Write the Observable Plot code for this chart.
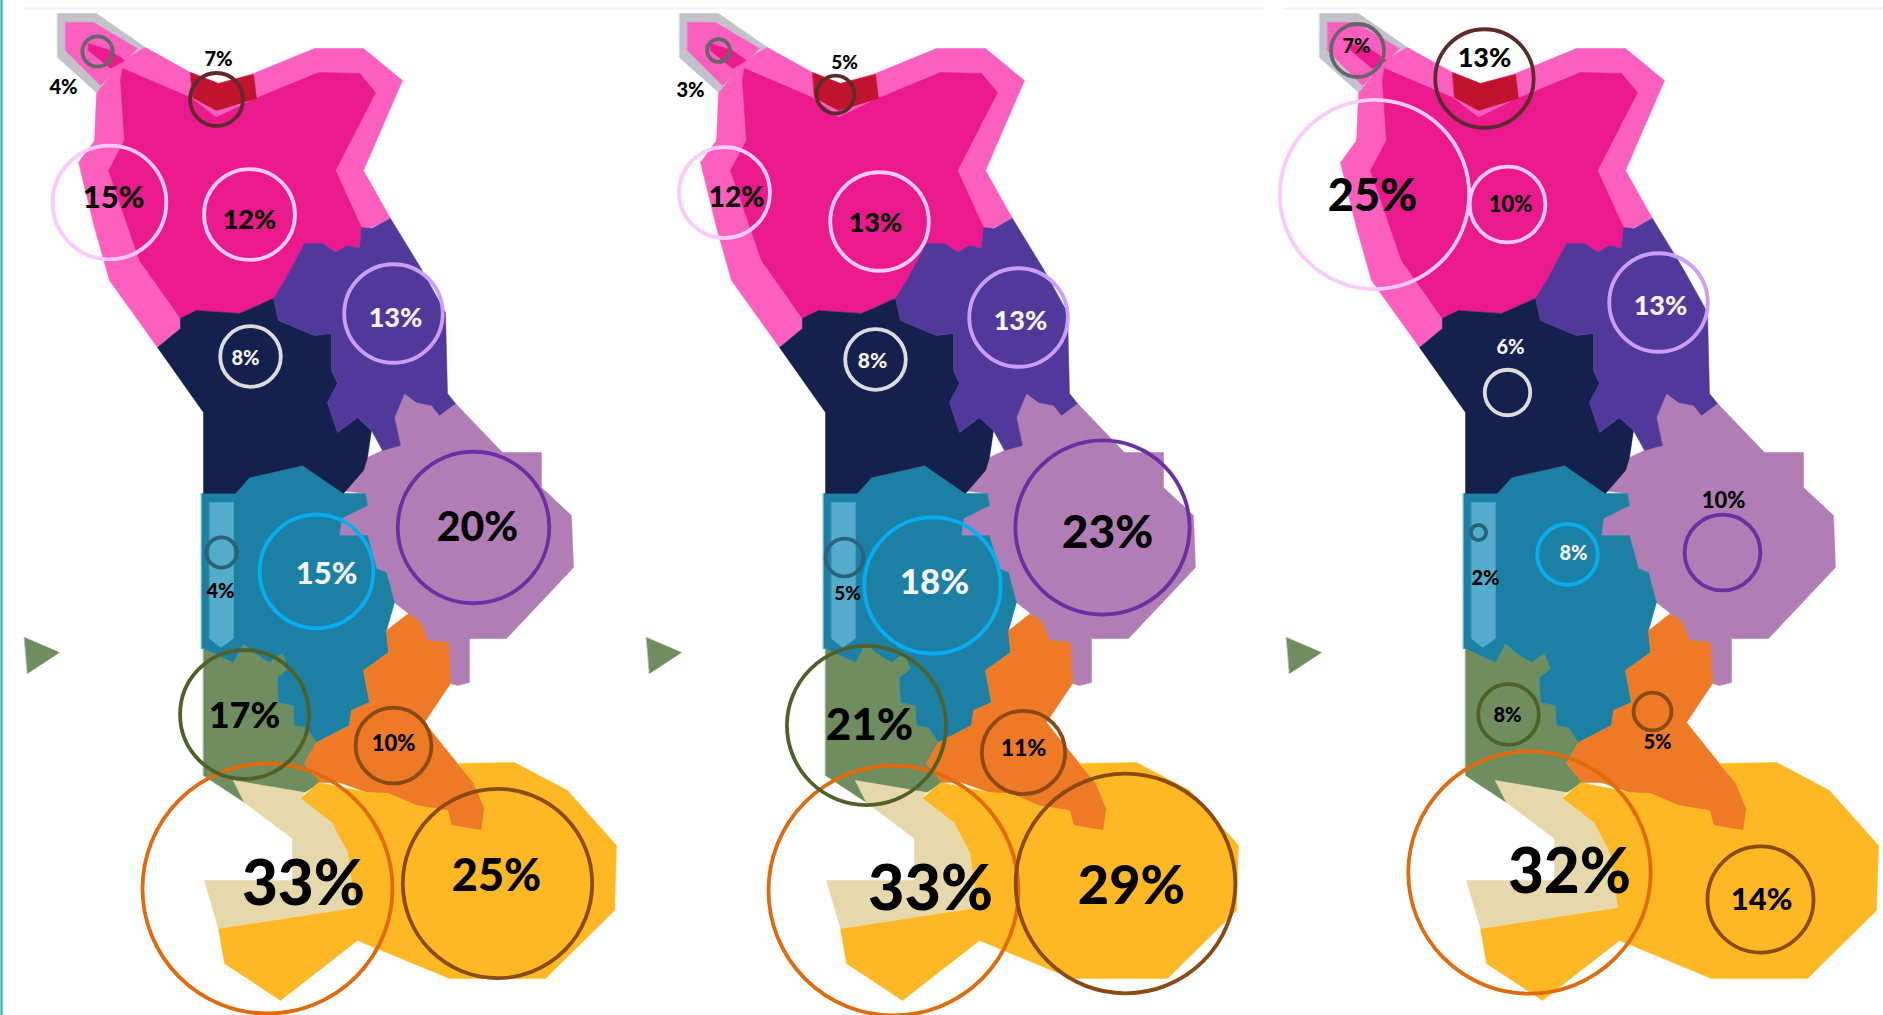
<!DOCTYPE html>
<html><head><meta charset="utf-8">
<style>html,body{margin:0;padding:0;background:#fff;overflow:hidden}svg{display:block}</style>
<script src="https://cdn.jsdelivr.net/npm/d3@7"></script>
<script src="https://cdn.jsdelivr.net/npm/@observablehq/plot@0.6"></script>
</head><body><div id="chart"></div>
<script>
// Horizontal placement of the three map panels
const panelOffsets = [0, 622, 1262];

// Map regions: outline points in the left panel's frame
const frameShape = [[57,13],[96,13],[145,47],[102,93],[96,92],[57,57]];
const framePink = [[65,22],[93,22],[137,48],[100,85],[65,50]];
const lightPinkShape = [[96,93],[94,140],[78,162],[94,227],[109,280],[157,347],[180,328],[196,310],[286,300],[359,233],[390,218],[363,170],[402,80],[363,48],[314,48],[253,73],[218,83],[190,72],[145,47],[122,60]];
const darkPinkShape = [[122,68],[190,97],[216,117],[255,98],[318,72],[359,73],[375,92],[335,170],[361,227],[359,248],[347,245],[335,252],[322,243],[304,243],[286,277],[273,298],[239,313],[196,310],[180,318],[139,260],[108,170],[124,140],[120,80]];
const darkPinkTip = [[88,43],[110,50],[124,60],[110,68],[88,50]];
const redShape = [[190,72],[218,83],[253,74],[256,98],[216,110],[192,97]];
const navyShape = [[180,318],[196,310],[239,313],[273,298],[278,320],[314,335],[331,333],[331,370],[337,383],[327,402],[337,432],[357,417],[371,430],[367,457],[363,470],[343,493],[302,465],[249,477],[235,493],[203,493],[203,412],[157,347],[180,328]];
const purpleShape = [[390,218],[420,267],[445,312],[447,393],[455,403],[439,415],[431,405],[416,402],[404,393],[394,417],[400,445],[382,450],[371,430],[357,417],[337,432],[327,402],[337,383],[331,370],[331,333],[314,335],[278,320],[273,298],[286,277],[304,243],[322,243],[335,252],[347,245],[359,248],[361,227],[371,228]];
const mauveShape = [[404,393],[416,402],[431,405],[439,415],[455,403],[502,452],[541,452],[541,487],[571,515],[573,567],[506,638],[469,638],[469,682],[457,685],[450,683],[408,613],[394,602],[386,572],[376,568],[367,535],[339,535],[341,518],[367,505],[365,493],[340,490],[367,457],[382,450],[400,445],[394,417]];
const blueShape = [[201,493],[235,493],[249,477],[302,465],[343,493],[365,493],[367,505],[341,518],[339,535],[367,535],[376,568],[386,572],[394,602],[386,630],[388,652],[363,670],[369,702],[351,710],[349,725],[316,742],[306,727],[294,725],[293,705],[278,702],[277,677],[288,668],[282,653],[296,642],[269,662],[253,652],[243,643],[233,662],[218,655],[203,648],[201,648]];
const greenShape = [[203,648],[218,655],[233,662],[243,643],[253,652],[269,662],[296,642],[282,653],[288,668],[277,677],[278,702],[293,705],[294,725],[306,727],[316,742],[304,763],[320,782],[304,792],[233,780],[244,802],[203,775]];
const stripShape = [[209,502],[233,502],[233,638],[220,647],[209,638]];
const orangeShape = [[386,630],[408,613],[420,622],[427,640],[448,642],[450,683],[424,722],[457,763],[473,782],[484,808],[481,830],[451,825],[447,810],[416,805],[388,793],[367,792],[339,782],[320,782],[304,763],[316,742],[349,725],[351,710],[369,702],[363,670],[388,652]];
const yellowShape = [[457,763],[514,762],[567,790],[616,845],[614,910],[545,978],[449,978],[357,940],[280,1000],[224,963],[218,928],[355,907],[347,852],[331,822],[300,798],[318,782],[367,792],[388,793],[416,805],[447,810],[451,825],[481,830],[484,808],[473,782]];
const beigeShape = [[233,780],[304,792],[300,798],[331,822],[347,852],[355,907],[218,928],[204,880],[292,880],[292,838],[244,802]];
const islandShape = [[24,637],[59,652],[27,673]];

const mapLayers = [
  [frameShape, "#c2c2ca"], [lightPinkShape, "#fd5fbf"], [framePink, "#fd5fbf"],
  [darkPinkShape, "#ea198c"], [darkPinkTip, "#ea198c"], [redShape, "#c1122e"],
  [mauveShape, "#b07db4"], [greenShape, "#6f8e60"], [blueShape, "#1c80a5"],
  [stripShape, "#53accb"], [navyShape, "#14214f"], [purpleShape, "#50399b"],
  [orangeShape, "#ee7a25"], [yellowShape, "#fdb824"], [beigeShape, "#e7d8ab"],
  [islandShape, "#6f8e60"]
];

// Bubble ring and label colours by region
const ringColors = {top:"#66666a", red:"#5e2b2b", west:"#fbcbfd", centre:"#fbcbfd", purple:"#cc9dfb", navy:"#dcdcdc",
  violet:"#6a2fa3", blue:"#05aef0", strip:"#2a6378", green:"#4f6128", orange:"#8a4a14", coast:"#e16a0c", east:"#8a4a14"};
const whiteLabels = ["purple", "navy", "blue"];

// Rows: region, share (%), bubble x, bubble y, label x, label y, label size
const panelOne = [
  ["top",4,97,51,63,87,20],["red",7,216,99,218,59,20],["west",15,109,202,113,198,31],["centre",12,249,214,249,220,27],
  ["purple",13,393,313,395,318,27],["navy",8,250,356,245,358,20],["violet",20,473,527,477,527,41],["blue",15,316,571,326,574,31],
  ["strip",4,221,552,220,591,20],["green",17,244,714,244,716,36],["orange",10,393,745,393,743,22],["coast",33,267,888,303,885,62],["east",25,497,883,496,876,45]
];
const panelTwo = [
  ["top",3,718,50,690,90,20],["red",5,835,94,844,62,19],["west",12,724,192,736,198,28],["centre",13,879,221,875,223,27],
  ["purple",13,1018,317,1020,321,27],["navy",8,875,359,872,361,21],["violet",23,1102,527,1107,533,46],["blue",18,932,585,934,582,35],
  ["strip",5,844,557,847,593,19],["green",21,866,725,869,725,44],["orange",11,1023,752,1023,748,23],["coast",33,893,890,930,889,63],["east",29,1125,883,1131,886,54]
];
const panelThree = [
  ["top",7,1357,50,1356,46,20],["red",13,1484,78,1484,58,27],["west",25,1374,194,1372,196,45],["centre",10,1507,204,1510,204,22],
  ["purple",13,1658,302,1660,306,27],["navy",6,1507,392,1510,347,20],["violet",10,1722,552,1723,500,22],["blue",8,1567,554,1573,553,20],
  ["strip",2,1478,532,1485,578,20],["green",8,1508,714,1507,715,20],["orange",5,1652,711,1657,742,20],["coast",32,1529,872,1569,873,62],["east",14,1760,899,1761,900,31]
];

const regions = panelOffsets.flatMap(dx => mapLayers.map(([shape, fill]) => ({
  type: "Feature", properties: {fill},
  geometry: {type: "Polygon", coordinates: [[...shape, shape[0]].map(([x, y]) => [x + dx, y])]}
})));
const bubbles = [...panelOne, ...panelTwo, ...panelThree].map(([region, value, cx, cy, lx, ly, size]) => ({region, value, cx, cy, lx, ly, size}));

const chart = Plot.plot({
  width: 1883, height: 1015, margin: 0,
  style: {background: "#fff"},
  x: {domain: [0, 1883], range: [0, 1883], axis: null},
  y: {domain: [0, 1015], range: [0, 1015], axis: null},
  r: {type: "linear", domain: [0, 33], range: [0, 125]},
  marks: [
    Plot.ruleX([1], {stroke: "#12b5a8", strokeWidth: 2}),
    Plot.ruleY([8], {x1: 24, x2: 1263, stroke: "#f2f2f2", strokeWidth: 2}),
    Plot.ruleY([8], {x1: 1284, x2: 1883, stroke: "#f2f2f2", strokeWidth: 2}),
    Plot.geo(regions, {fill: d => d.properties.fill, stroke: d => d.properties.fill, strokeWidth: 0.5, imageFilter: "blur(0.7px)"}),
    Plot.dot(bubbles, {x: "cx", y: "cy", r: "value", fill: "none", stroke: d => ringColors[d.region], strokeWidth: 3.8}),
    Plot.text(bubbles, {
      x: "lx", y: "ly", text: d => `${d.value}%`, fontSize: d => d.size,
      fontFamily: "Lato", fontWeight: 900,
      fill: d => whiteLabels.includes(d.region) ? "#f4f4f4" : "#000"
    })
  ]
});
document.getElementById("chart").append(chart);
</script></body></html>
